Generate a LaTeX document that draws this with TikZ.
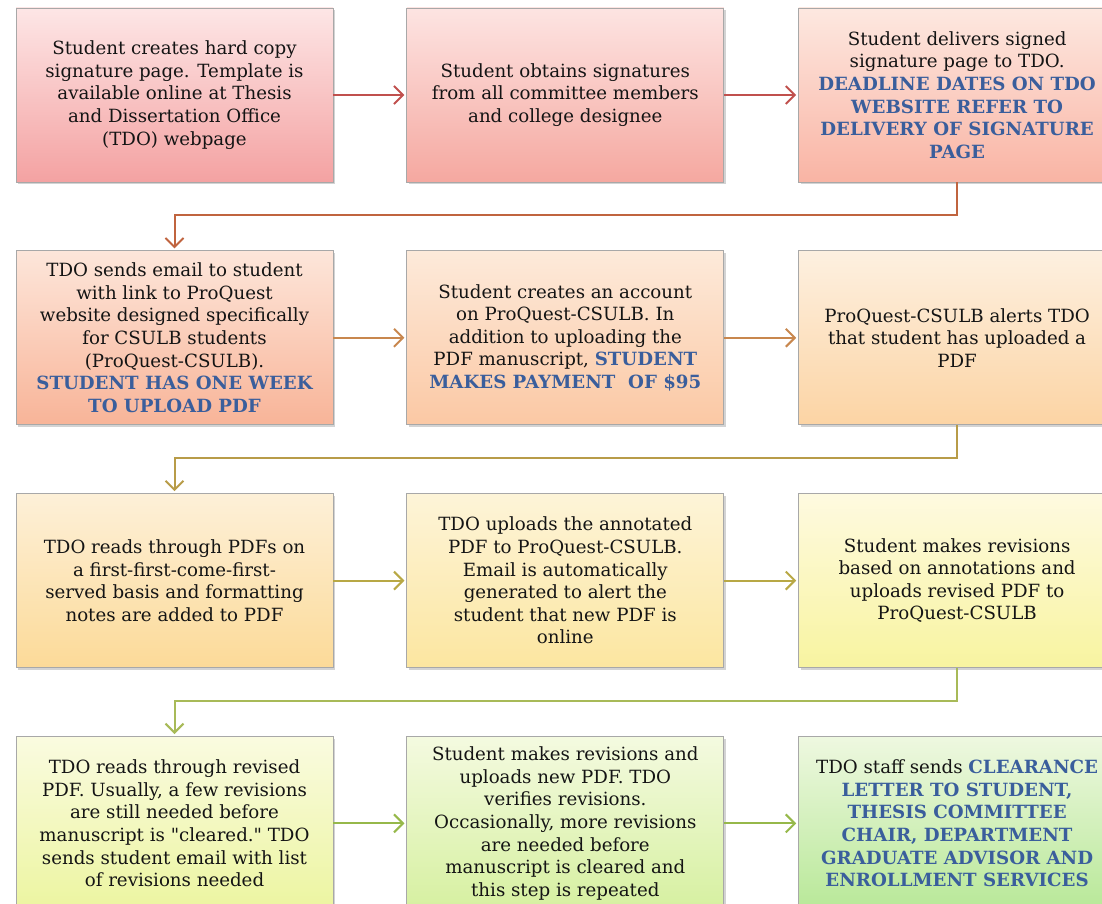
\documentclass[tikz,border=0pt]{standalone}
\usepackage{fontspec}
\setmainfont{DejaVu Serif}
\usepackage{xcolor}
\usetikzlibrary{positioning,shadows,arrows.meta}

\definecolor{tdoblue}{HTML}{3A5E9C}
\definecolor{boxgray}{HTML}{A8A8A8}
\definecolor{linkA}{HTML}{C0504D}
\definecolor{linkAB}{HTML}{C0643F}
\definecolor{linkB}{HTML}{C8874E}
\definecolor{linkBC}{HTML}{B89C48}
\definecolor{linkC}{HTML}{B8A845}
\definecolor{linkCD}{HTML}{A8BA58}
\definecolor{linkD}{HTML}{96B84A}

\newcommand{\blu}[1]{\textcolor{tdoblue}{\bfseries #1}}
% straight double quote, kept out of the TeX ligature mapping
\newcommand{\sq}{\XeTeXglyph\XeTeXcharglyph"22\relax}

\tikzset{
  stepbox/.style={draw=boxgray, line width=0.8pt, minimum width=317pt, minimum height=174pt,
    align=center, inner sep=3pt, text=black!92,
    font=\fontsize{18.2}{22.6}\selectfont,
    drop shadow={shadow xshift=2pt, shadow yshift=-2.5pt, opacity=0.35}},
  link/.style={-{Straight Barb[length=9pt,width=18pt]}, line width=2pt, shorten >=2pt},
}

\begin{document}
\begin{tikzpicture}[x=1pt, y=1pt, node distance=68pt and 73pt]
  \clip (0,0) rectangle (1102,903);

  % first row: signature page
  \node[stepbox, top color={rgb,255:red,253;green,230;blue,230}, bottom color={rgb,255:red,244;green,162;blue,162}] (create) at (174.5,808)
    {Student creates hard copy\\ signature page. Template is\\ available online at Thesis\\ and Dissertation Office\\ (TDO) webpage};
  \node[stepbox, top color={rgb,255:red,253;green,228;blue,226}, bottom color={rgb,255:red,245;green,168;blue,160}] (obtain) [right=of create]
    {Student obtains signatures\\ from all committee members\\ and college designee};
  \node[stepbox, top color={rgb,255:red,253;green,232;blue,224}, bottom color={rgb,255:red,249;green,180;blue,164}] (deliver) [right=74pt of obtain]
    {Student delivers signed\\ signature page to TDO.\\ \blu{DEADLINE DATES ON TDO}\\ \blu{WEBSITE REFER TO}\\ \blu{DELIVERY OF SIGNATURE}\\ \blu{PAGE}};

  % second row: ProQuest upload
  \node[stepbox, top color={rgb,255:red,253;green,230;blue,218}, bottom color={rgb,255:red,248;green,180;blue,152}] (email) [below=of create]
    {TDO sends email to student\\ with link to ProQuest\\ website designed specifically\\ for CSULB students\\ (ProQuest-CSULB).\\ \blu{STUDENT HAS ONE WEEK}\\ \blu{TO UPLOAD PDF}};
  \node[stepbox, top color={rgb,255:red,253;green,234;blue,218}, bottom color={rgb,255:red,251;green,200;blue,164}] (account) [below=of obtain]
    {Student creates an account\\ on ProQuest-CSULB. In\\ addition to uploading the\\ PDF manuscript, \blu{STUDENT}\\ \blu{MAKES PAYMENT\ \ OF \$95}};
  \node[stepbox, top color={rgb,255:red,253;green,240;blue,224}, bottom color={rgb,255:red,252;green,212;blue,164}] (alert) [below=of deliver]
    {ProQuest-CSULB alerts TDO\\ that student has uploaded a\\ PDF};

  % third row: formatting review
  \node[stepbox, top color={rgb,255:red,253;green,240;blue,216}, bottom color={rgb,255:red,252;green,218;blue,152}] (reads) [below=of email]
    {TDO reads through PDFs on\\ a first-first-come-first-\\ served basis and formatting\\ notes are added to PDF};
  \node[stepbox, top color={rgb,255:red,253;green,244;blue,216}, bottom color={rgb,255:red,252;green,230;blue,160}] (annot) [below=of account]
    {TDO uploads the annotated\\ PDF to ProQuest-CSULB.\\ Email is automatically\\ generated to alert the\\ student that new PDF is\\ online};
  \node[stepbox, top color={rgb,255:red,254;green,250;blue,224}, bottom color={rgb,255:red,248;green,244;blue,160}] (revise) [below=of alert]
    {Student makes revisions\\ based on annotations and\\ uploads revised PDF to\\ ProQuest-CSULB};

  % fourth row: clearance
  \node[stepbox, top color={rgb,255:red,250;green,251;blue,224}, bottom color={rgb,255:red,236;green,245;blue,160}] (rereads) [below=of reads]
    {TDO reads through revised\\ PDF. Usually, a few revisions\\ are still needed before\\ manuscript is \sq cleared.\sq\ TDO\\ sends student email with list\\ of revisions needed};
  \node[stepbox, top color={rgb,255:red,244;green,250;blue,224}, bottom color={rgb,255:red,214;green,240;blue,160}] (repeat) [below=of annot]
    {Student makes revisions and\\ uploads new PDF. TDO\\ verifies revisions.\\ Occasionally, more revisions\\ are needed before\\ manuscript is cleared and\\ this step is repeated};
  \node[stepbox, top color={rgb,255:red,238;green,248;blue,224}, bottom color={rgb,255:red,184;green,232;blue,152}] (clear) [below=of revise]
    {TDO staff sends \blu{CLEARANCE}\\ \blu{LETTER TO STUDENT,}\\ \blu{THESIS COMMITTEE}\\ \blu{CHAIR, DEPARTMENT}\\ \blu{GRADUATE ADVISOR AND}\\ \blu{ENROLLMENT SERVICES}};

  % arrows along each row and down to the next one
  \draw[link, draw=linkA] (create) -- (obtain);
  \draw[link, draw=linkA] (obtain) -- (deliver);
  \draw[link, draw=linkAB] (deliver.south) -- ++(0,-33) -| (email.north);
  \draw[link, draw=linkB] (email) -- (account);
  \draw[link, draw=linkB] (account) -- (alert);
  \draw[link, draw=linkBC] (alert.south) -- ++(0,-33) -| (reads.north);
  \draw[link, draw=linkC] (reads) -- (annot);
  \draw[link, draw=linkC] (annot) -- (revise);
  \draw[link, draw=linkCD] (revise.south) -- ++(0,-33) -| (rereads.north);
  \draw[link, draw=linkD] (rereads) -- (repeat);
  \draw[link, draw=linkD] (repeat) -- (clear);
\end{tikzpicture}
\end{document}
